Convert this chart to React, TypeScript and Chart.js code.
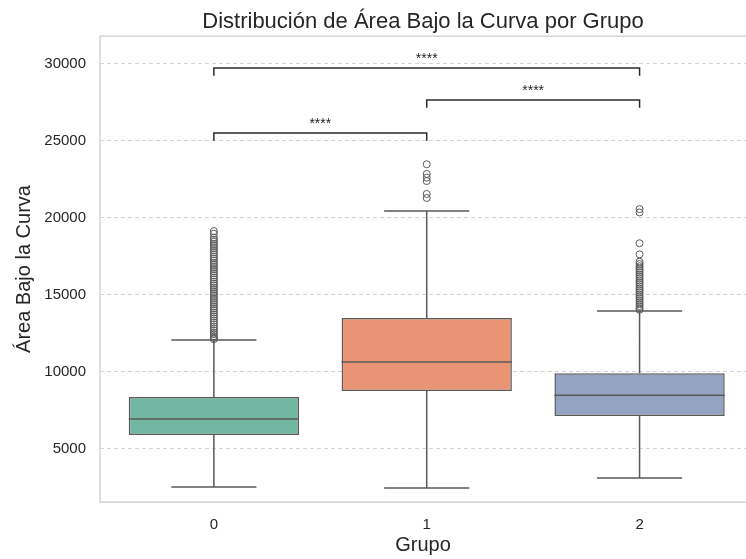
import React, { useEffect, useRef } from "react";
import { Chart, registerables } from "chart.js";

Chart.register(...registerables);

// ---- data ----
const groups = [0, 1, 2];
const groupLabels = ["0", "1", "2"];
const q1 = [5909, 8766, 7143];
const medians = [6948, 10649, 8487];
const q3 = [8377, 13506, 9916];
const whiskerLow = [2532, 2468, 3117];
const whiskerHigh = [12078, 20455, 13961];

const outliers0 = [
  19150, 18980, 18720, 18590, 18460, 18310, 18190, 18040, 17910, 17770, 17640,
  17490, 17360, 17230, 17070, 16960, 16810, 16690, 16540, 16410, 16270, 16140,
  16010, 15860, 15730, 15610, 15470, 15340, 15190, 15070, 14940, 14790, 14670,
  14530, 14410, 14260, 14140, 14010, 13870, 13740, 13610, 13480, 13340, 13210,
  13090, 12950, 12830, 12700, 12570, 12460, 12330, 12220, 12130,
];
const outliers1 = [23490, 22860, 22620, 22400, 21560, 21300];
const outliers2 = [
  20580, 20360, 18360, 17640, 17160, 17010, 16870, 16730, 16610, 16480, 16340,
  16220, 16090, 15950, 15820, 15700, 15560, 15430, 15310, 15180, 15040, 14920,
  14790, 14660, 14530, 14410, 14280, 14150, 14040,
];

const boxColors = ["#71b7a1", "#e99575", "#95a3c3"];
const yTicks = [5000, 10000, 15000, 20000, 25000, 30000];

const comparePairs: [number, number][] = [
  [0, 1],
  [1, 2],
  [0, 2],
];
const bracketTops = [25519, 27662, 29740];
const bracketDrop = 500;
const pLabels = ["****", "****", "****"];

const Y_MIN = 1558;
const Y_MAX = 31818;
const X_MIN = -0.535;
const X_MAX = 2.5;

const FONT = "'Liberation Sans', Arial, Helvetica, sans-serif";
const TEXT = "#262626";
const LINE = "#595959";

export default function App() {
  const ref = useRef<HTMLCanvasElement | null>(null);

  useEffect(() => {
    if (!ref.current) return;

    const boxData = groups.map((g, i) => ({ x: g, y: [q1[i], q3[i]] }));

    const medianData: any[] = [];
    groups.forEach((g, i) => {
      medianData.push({ x: g - 0.4, y: medians[i] });
      medianData.push({ x: g + 0.4, y: medians[i] });
      medianData.push({ x: g, y: null });
    });

    const whiskerData: any[] = [];
    groups.forEach((g, i) => {
      whiskerData.push({ x: g, y: q1[i] }, { x: g, y: whiskerLow[i] }, { x: g, y: null });
      whiskerData.push({ x: g - 0.2, y: whiskerLow[i] }, { x: g + 0.2, y: whiskerLow[i] }, { x: g, y: null });
      whiskerData.push({ x: g, y: q3[i] }, { x: g, y: whiskerHigh[i] }, { x: g, y: null });
      whiskerData.push({ x: g - 0.2, y: whiskerHigh[i] }, { x: g + 0.2, y: whiskerHigh[i] }, { x: g, y: null });
    });

    const outlierData: any[] = [
      ...outliers0.map((v) => ({ x: 0, y: v })),
      ...outliers1.map((v) => ({ x: 1, y: v })),
      ...outliers2.map((v) => ({ x: 2, y: v })),
    ];

    const bracketData: any[] = [];
    comparePairs.forEach(([a, b], i) => {
      const top = bracketTops[i];
      bracketData.push(
        { x: a, y: top - bracketDrop },
        { x: a, y: top },
        { x: b, y: top },
        { x: b, y: top - bracketDrop },
        { x: a, y: null }
      );
    });

    const framePlugin = {
      id: "frame",
      beforeDatasetsDraw(chart: any) {
        const { ctx, chartArea } = chart;
        const { left, right, top, bottom } = chartArea;
        ctx.save();
        ctx.strokeStyle = "#cccccc";
        ctx.lineWidth = 1.25;
        ctx.beginPath();
        ctx.moveTo(right + 2, top);
        ctx.lineTo(left, top);
        ctx.lineTo(left, bottom);
        ctx.lineTo(right + 2, bottom);
        ctx.stroke();
        ctx.restore();
      },
    };

    const starPlugin = {
      id: "stars",
      afterDatasetsDraw(chart: any) {
        const { ctx } = chart;
        const xs = chart.scales.x;
        const ys = chart.scales.y;
        ctx.save();
        ctx.fillStyle = TEXT;
        ctx.font = `14px ${FONT}`;
        ctx.textAlign = "center";
        ctx.textBaseline = "alphabetic";
        comparePairs.forEach(([a, b], i) => {
          const px = xs.getPixelForValue((a + b) / 2);
          const py = ys.getPixelForValue(bracketTops[i]) - 5.5;
          ctx.fillText(pLabels[i], px, py);
        });
        ctx.restore();
      },
    };

    const chart = new Chart(ref.current, {
      type: "bar",
      data: {
        datasets: [
          {
            type: "line",
            label: "medians",
            data: medianData,
            borderColor: LINE,
            borderWidth: 1.5,
            pointRadius: 0,
            spanGaps: false,
            fill: false,
            order: 0,
          } as any,
          {
            type: "line",
            label: "brackets",
            data: bracketData,
            borderColor: "#2b2b2b",
            borderWidth: 1.5,
            pointRadius: 0,
            spanGaps: false,
            fill: false,
            order: 0,
          } as any,
          {
            type: "bar",
            label: "boxes",
            data: boxData as any,
            backgroundColor: boxColors,
            borderColor: LINE,
            borderWidth: 1.5,
            borderSkipped: false,
            categoryPercentage: 0.8,
            barPercentage: 1,
            order: 2,
          } as any,
          {
            type: "line",
            label: "whiskers",
            data: whiskerData,
            borderColor: LINE,
            borderWidth: 1.5,
            pointRadius: 0,
            spanGaps: false,
            fill: false,
            order: 3,
          } as any,
          {
            type: "scatter",
            label: "outliers",
            data: outlierData,
            pointRadius: 3.5,
            pointBackgroundColor: "rgba(0,0,0,0)",
            pointBorderColor: LINE,
            pointBorderWidth: 1,
            order: 1,
          } as any,
        ],
      },
      options: {
        animation: false,
        responsive: false,
        maintainAspectRatio: false,
        layout: { padding: 0, autoPadding: false },
        plugins: {
          legend: { display: false },
          tooltip: { enabled: false },
          title: {
            display: true,
            text: "Distribución de Área Bajo la Curva por Grupo",
            color: TEXT,
            font: { family: FONT, size: 22, weight: "normal" },
            padding: { top: 9, bottom: 0.6 },
            fullSize: false,
          },
        },
        scales: {
          x: {
            type: "linear",
            min: X_MIN,
            max: X_MAX,
            offset: false,
            afterBuildTicks: (s: any) => {
              s.ticks = groups.map((g) => ({ value: g }));
            },
            afterFit: (s: any) => {
              s.height = 57;
              s.paddingLeft = 0;
              s.paddingRight = 0;
            },
            ticks: {
              callback: (v: any) => groupLabels[groups.indexOf(Number(v))] ?? "",
              color: TEXT,
              font: { family: FONT, size: 15 },
              padding: 14,
              maxRotation: 0,
            },
            grid: { display: false, drawTicks: false, offset: false },
            border: { display: false },
            title: {
              display: true,
              text: "Grupo",
              color: TEXT,
              font: { family: FONT, size: 20 },
              padding: { top: 0, bottom: 2 },
            },
          },
          y: {
            type: "linear",
            min: Y_MIN,
            max: Y_MAX,
            afterBuildTicks: (s: any) => {
              s.ticks = yTicks.map((v) => ({ value: v }));
            },
            afterFit: (s: any) => {
              s.width = 100;
            },
            ticks: {
              callback: (v: any) => String(v),
              color: TEXT,
              font: { family: FONT, size: 15 },
              padding: 14,
            },
            grid: { color: "rgba(204,204,204,0.85)", lineWidth: 1, drawTicks: false },
            border: { display: false, dash: [4, 3] },
            title: {
              display: true,
              text: "Área Bajo la Curva",
              color: TEXT,
              font: { family: FONT, size: 20 },
              padding: { top: 12, bottom: 4 },
            },
          },
        },
      } as any,
      plugins: [framePlugin, starPlugin],
    });

    return () => chart.destroy();
  }, []);

  return (
    <div style={{ position: "fixed", left: 0, top: 0, width: 746, height: 559, background: "#fff", overflow: "hidden" }}>
      <canvas ref={ref} width={746} height={559} style={{ display: "block" }} />
    </div>
  );
}
